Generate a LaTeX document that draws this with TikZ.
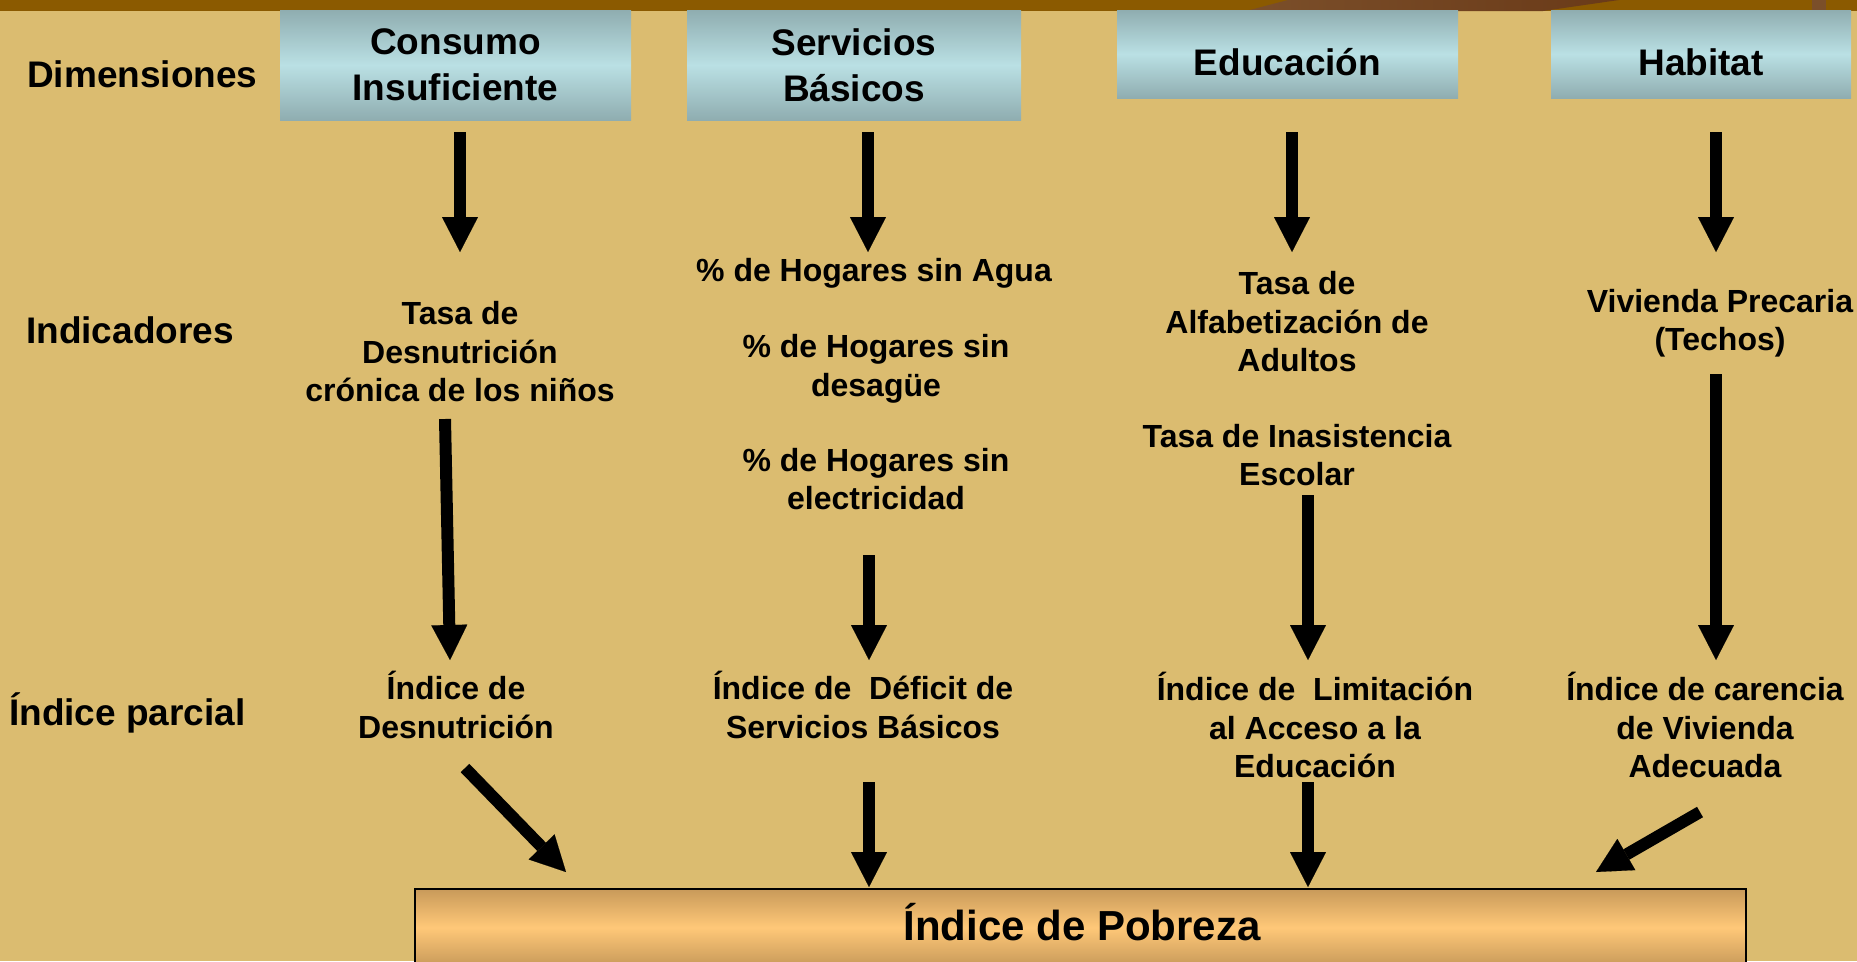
\documentclass[tikz,border=0pt]{standalone}
\usepackage{fontspec}
\setmainfont{Liberation Sans}
\usetikzlibrary{arrows.meta}
\definecolor{bgc}{HTML}{DBBC70}
\definecolor{barc}{HTML}{8B5A00}
\definecolor{hdrdark}{HTML}{8FADB0}
\definecolor{hdrlight}{HTML}{BAE0E4}
\definecolor{pobdark}{HTML}{C89A5A}
\definecolor{poblight}{HTML}{FFC878}
\definecolor{decoA}{HTML}{7B4F2A}
\definecolor{decoB}{HTML}{6A3A18}
\begin{document}
\begin{tikzpicture}[x=1pt,y=-1pt,
  lbl/.style={font=\bfseries\fontsize{37}{44}\selectfont, inner sep=0pt, anchor=base west},
  hdrbox/.style={top color=hdrdark, bottom color=hdrdark, middle color=hdrlight, inner sep=0pt, draw=none},
  hdrtext/.style={font=\bfseries\fontsize{37}{46}\selectfont, align=center, inner sep=0pt},
  txt/.style={font=\bfseries\fontsize{32}{38.5}\selectfont, align=center, inner sep=0pt},
  arr/.style={line width=12pt, -{Triangle[width=36pt,length=35pt,line width=0.1pt]}},
]
\useasboundingbox (0,0) rectangle (1857,961);
\fill[bgc] (0,0) rectangle (1857,961);
% top bar
\fill[barc] (0,0) rectangle (1857,11);
\shade[left color=decoA, right color=decoB] (1288,0) -- (1619,0) -- (1543,11) -- (1246,11) -- cycle;
\fill[decoA] (1812,0) rectangle (1826,11);

% left labels
\node[lbl] (l1) at (27,87) {Dimensiones};
\node[lbl] (l2) at (26,343) {Indicadores};
\node[lbl] (l3) at (9,725) {Índice parcial};

% header boxes
\node[hdrbox, minimum width=351pt, minimum height=110pt] (h1) at (455.5,65) {};
\node[hdrbox, minimum width=334pt, minimum height=110pt] (h2) at (854,65) {};
\node[hdrbox, minimum width=341pt, minimum height=88pt] (h3) at (1287.5,54) {};
\node[hdrbox, minimum width=300pt, minimum height=88pt] (h4) at (1701,54) {};
\node[hdrtext] (ht1) at (455.5,65) {Consumo\\Insuficiente};
\node[hdrtext] (ht2) at (854,65) {Servicios\\Básicos};
\node[hdrtext, anchor=base] (ht3) at (1287.5,75) {Educación};
\node[hdrtext, anchor=base] (ht4) at (1701,75) {Habitat};

% indicators
\node[txt] (i1) at (460,352) {Tasa de\\Desnutrición\\crónica de los niños};
\node[txt] (i2a) at (874,273) {\% de Hogares sin Agua};
\node[txt] (i2b) at (876,369) {\% de Hogares sin\\desagüe};
\node[txt] (i2c) at (876,479) {\% de Hogares sin\\electricidad};
\node[txt] (i3a) at (1297,322) {Tasa de\\Alfabetización de\\Adultos};
\node[txt] (i3b) at (1297,455) {Tasa de Inasistencia\\Escolar};
\node[txt] (i4) at (1720,323) {Vivienda Precaria\\(Techos)};

% partial indices
\node[txt] (p1) at (456,705) {Índice de\\Desnutrición};
\node[txt] (p2) at (863,705) {Índice de\ \ Déficit de\\Servicios Básicos};
\node[txt] (p3) at (1315,725) {Índice de\ \ Limitación\\al Acceso a la\\Educación};
\node[txt] (p4) at (1705,725) {Índice de carencia\\de Vivienda\\Adecuada};

% bottom box
\node[top color=pobdark, bottom color=pobdark, middle color=poblight, draw=black, line width=2pt,
      minimum width=1331pt, minimum height=77pt, inner sep=0pt] (pob) at (1080.5,927.5) {};
\node[font=\bfseries\fontsize{42}{50}\selectfont, inner sep=0pt, anchor=base] (pobt) at (1082,940) {Índice de Pobreza};

% arrow end points
\coordinate (a1s) at (460,132); \coordinate (a1e) at (460,252);
\coordinate (a2s) at (445,419); \coordinate (a2e) at (450,660);
\coordinate (a3s) at (465,768); \coordinate (a3e) at (566,872);
\coordinate (b1s) at (868,132); \coordinate (b1e) at (868,252);
\coordinate (b2s) at (869,555); \coordinate (b2e) at (869,660);
\coordinate (b3s) at (869,782); \coordinate (b3e) at (869,887);
\coordinate (c1s) at (1292,132); \coordinate (c1e) at (1292,252);
\coordinate (c2s) at (1308,495); \coordinate (c2e) at (1308,660);
\coordinate (c3s) at (1308,782); \coordinate (c3e) at (1308,887);
\coordinate (d1s) at (1716,132); \coordinate (d1e) at (1716,252);
\coordinate (d2s) at (1716,374); \coordinate (d2e) at (1716,660);
\coordinate (d3s) at (1700,812); \coordinate (d3e) at (1596,872);

\draw[arr] (a1s) -- (a1e);
\draw[arr] (a2s) -- (a2e);
\draw[arr] (a3s) -- (a3e);
\draw[arr] (b1s) -- (b1e);
\draw[arr] (b2s) -- (b2e);
\draw[arr] (b3s) -- (b3e);
\draw[arr] (c1s) -- (c1e);
\draw[arr] (c2s) -- (c2e);
\draw[arr] (c3s) -- (c3e);
\draw[arr] (d1s) -- (d1e);
\draw[arr] (d2s) -- (d2e);
\draw[arr] (d3s) -- (d3e);
\end{tikzpicture}
\end{document}
